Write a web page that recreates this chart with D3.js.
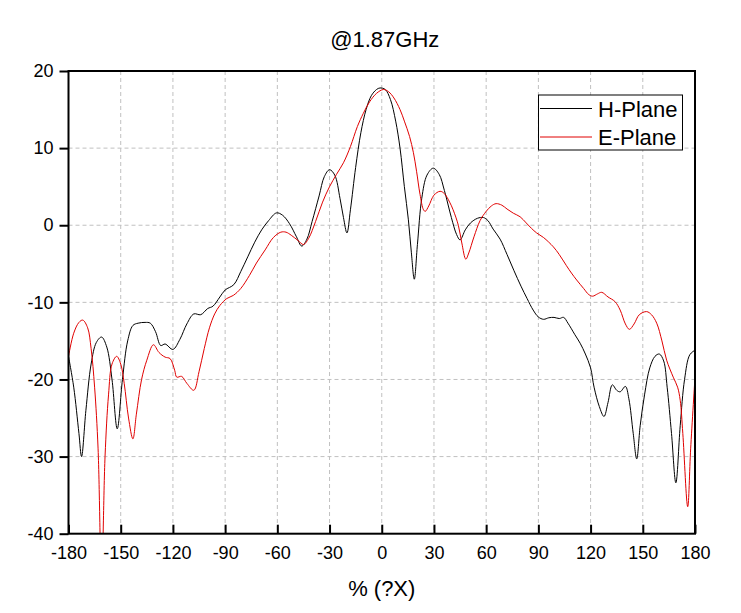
<!DOCTYPE html>
<html><head><meta charset="utf-8">
<script src="https://cdn.jsdelivr.net/npm/d3@7"></script>
<style>body{margin:0;background:#fff;} text{font-family:"Liberation Sans",Arial,sans-serif;}</style>
</head><body>
<svg id="chart" width="741" height="613"></svg>
<script>
const title = "@1.87GHz";
const xTitle = "% (?X)";
const xTicks = [-180,-150,-120,-90,-60,-30,0,30,60,90,120,150,180];
const yTicks = [-40,-30,-20,-10,0,10,20];
const seriesNames = ["H-Plane","E-Plane"];

const hAngles = [-180,-177,-174,-172.5,-170,-167,-164,-161,-158,-155,-152,-149,-146,-143,-140,-136,-133,-130,-127,-124.5,-120,-116,-112,-108,-104,-100,-97,-93,-90,-85,-81,-77,-73,-69,-65,-60.5,-57,-53,-49,-46,-43,-40,-36,-33,-30,-27,-24,-22,-20,-18,-15,-12,-9,-6,-3,-1,2,5,8,10.5,13,15.3,17,18.7,20.5,23,26,29.6,33,36,40,43,45,48,51,55,58.4,61,64,68,72,76,80,83.5,87,90,93,96,99,102,104.5,107,111,114,117,120,122,125,127.7,130,132.5,135,137,140,142,144.5,146.5,148.5,151,154,157,159.5,162,164,166.5,169,171.5,174,177,180];
const hValues = [-17,-21,-27,-30,-24,-18,-15.2,-14.5,-15.8,-20,-26.4,-20,-15,-13,-12.7,-12.6,-12.7,-13.8,-15.6,-15.4,-16.1,-14.8,-12.8,-11.5,-11.6,-10.8,-10.5,-9.3,-8.4,-7.7,-6,-4.1,-2.2,-0.6,0.6,1.6,1.3,0.2,-1.5,-2.7,-1.8,0.5,3.8,6.3,7.2,6.5,3.5,1,-1,2,7.5,12,15,16.8,17.6,17.8,17.6,16.3,13.5,10,5,0.7,-3.5,-7,-2.5,3.5,6.5,7.4,6.6,4.5,1,-1.2,-1.9,-0.6,0.3,0.9,1.0,0.6,-0.5,-1.8,-3.8,-5.9,-7.9,-9.5,-11,-11.9,-12.2,-12,-11.95,-12.1,-11.95,-12.7,-14.2,-15.3,-16.7,-18.5,-21,-23.5,-24.8,-23,-20.7,-21.4,-21.6,-20.9,-22.5,-27,-30.3,-26,-22,-18.5,-17,-16.7,-17.6,-21,-27,-33.4,-26,-20,-16.8,-16.2];

const eAngles = [-180,-177,-174,-171.8,-169,-167,-165,-163,-161,-159,-157,-155,-152.3,-150,-148,-145.5,-143,-141,-138,-135,-131.2,-128,-124.5,-121.6,-119,-117.8,-115,-112,-108,-105,-102,-99,-96,-93,-89,-85.3,-81,-76,-72,-67,-62.3,-58,-55,-52,-48,-45,-42,-38,-34,-30,-26,-22,-18,-14,-10.6,-7,-3,1,4,7,10.5,13,16,18.2,20,22,24,25,27,30,33.5,36,39,41,44,46,48.3,50,53,56.5,60,63,65.7,69,72,75.6,79.5,83,86,89,93,98.6,102,106,109,112,116,119,121.2,124,126.4,130,134,137,140,142.3,145,148,152.2,155,158,161,163.7,167.5,170,171.5,173,175.8,177.5,180];
const eValues = [-17,-14,-12.6,-12.3,-13.3,-16,-21,-29,-46,-30,-22,-18,-17,-18,-20.5,-25,-27.7,-24.5,-20,-17.5,-15.5,-16.5,-17.1,-17.3,-18.8,-19.7,-19.6,-20.5,-21.4,-19,-16,-13.3,-11.5,-10.4,-9.5,-9.1,-8.2,-6.5,-4.9,-3.2,-1.6,-0.9,-0.9,-1.3,-2,-2.5,-1.7,0.5,3,5,6.6,8.1,10.2,12.8,14.5,16,17.1,17.6,17.3,16.5,15,13.5,11.5,9.4,7,4,2,1.8,2.5,3.9,4.4,4.1,3,2,0,-2.3,-4.4,-3.6,-1.5,0.6,1.8,2.5,2.8,2.6,2.1,1.56,1.1,0.3,-0.4,-1,-1.6,-2.8,-3.8,-5.2,-6.2,-7.1,-8.2,-9,-9.2,-8.9,-8.7,-9.3,-9.9,-11,-12.8,-13.5,-12.8,-11.6,-11.2,-11.6,-12.7,-15,-17.5,-19.7,-21,-22.7,-27,-36.5,-29,-19.7];

const svg = d3.select("#chart");
const L = 68.5, R = 695, T = 71, B = 533.7;
const x = d3.scaleLinear().domain([-180,180]).range([L,R]);
const y = d3.scaleLinear().domain([-40,20]).range([B,T]);
const fmt = d => String(d);

// grid
const grid = svg.append("g").attr("stroke","#c0c0c0").attr("stroke-width",1).attr("stroke-dasharray","4,3");
xTicks.filter(d=>d>-180&&d<180).forEach(d=>{
  grid.append("line").attr("x1",x(d)).attr("x2",x(d)).attr("y1",T).attr("y2",B);
});
yTicks.filter(d=>d>-40&&d<20).forEach(d=>{
  grid.append("line").attr("x1",L).attr("x2",R).attr("y1",y(d)).attr("y2",y(d));
});

svg.append("clipPath").attr("id","clip").append("rect").attr("x",L).attr("y",T).attr("width",R-L).attr("height",B-T);

const line = d3.line().x(d=>x(d[0])).y(d=>y(d[1])).curve(d3.curveCatmullRom.alpha(0.5));
const hData = hAngles.map((a,i)=>[a,hValues[i]]);
const eData = eAngles.map((a,i)=>[a,eValues[i]]);
const colors = ["#000000","#e00000"];
const plot = svg.append("g").attr("clip-path","url(#clip)");
plot.append("path").datum(hData).attr("d",line).attr("fill","none").attr("stroke",colors[0]).attr("stroke-width",1);
plot.append("path").datum(eData).attr("d",line).attr("fill","none").attr("stroke",colors[1]).attr("stroke-width",1);

// axes
const xAxis = d3.axisBottom(x).tickValues(xTicks).tickFormat(fmt).tickSizeInner(-9).tickSizeOuter(0).tickPadding(13);
const gx = svg.append("g").attr("transform",`translate(0,${B})`).call(xAxis);
gx.select(".domain").remove();
gx.selectAll(".tick line").attr("stroke","#000").attr("stroke-width",2);
gx.selectAll(".tick text").attr("font-size",18).attr("fill","#000").attr("font-family","Liberation Sans, Arial, sans-serif");

const yAxis = d3.axisLeft(y).tickValues(yTicks).tickFormat(fmt).tickSizeInner(9).tickSizeOuter(0).tickPadding(6);
const gy = svg.append("g").attr("transform",`translate(${L},0)`).call(yAxis);
gy.select(".domain").remove();
gy.selectAll(".tick line").attr("stroke","#000").attr("stroke-width",2);
gy.selectAll(".tick text").attr("font-size",18).attr("fill","#000").attr("font-family","Liberation Sans, Arial, sans-serif");

// frame
svg.append("rect").attr("x",L).attr("y",T).attr("width",R-L).attr("height",B-T).attr("fill","none").attr("stroke","#000").attr("stroke-width",2);

// titles
svg.append("text").attr("x",(L+R)/2+3).attr("y",47).attr("text-anchor","middle").attr("font-size",22).text(title);
svg.append("text").attr("x",(L+R)/2).attr("y",596).attr("text-anchor","middle").attr("font-size",22).text(xTitle);

// legend
const lg = svg.append("g");
lg.append("rect").attr("x",538.5).attr("y",95).attr("width",144).attr("height",55).attr("fill","#fff").attr("stroke","#000").attr("stroke-width",1);
seriesNames.forEach((n,i)=>{
  const yy = 108.5 + i*28.5;
  lg.append("line").attr("x1",540).attr("x2",592).attr("y1",yy).attr("y2",yy).attr("stroke",colors[i]).attr("stroke-width",1);
  lg.append("text").attr("x",598).attr("y",yy+8).attr("font-size",22).text(n);
});
</script>
</body></html>
